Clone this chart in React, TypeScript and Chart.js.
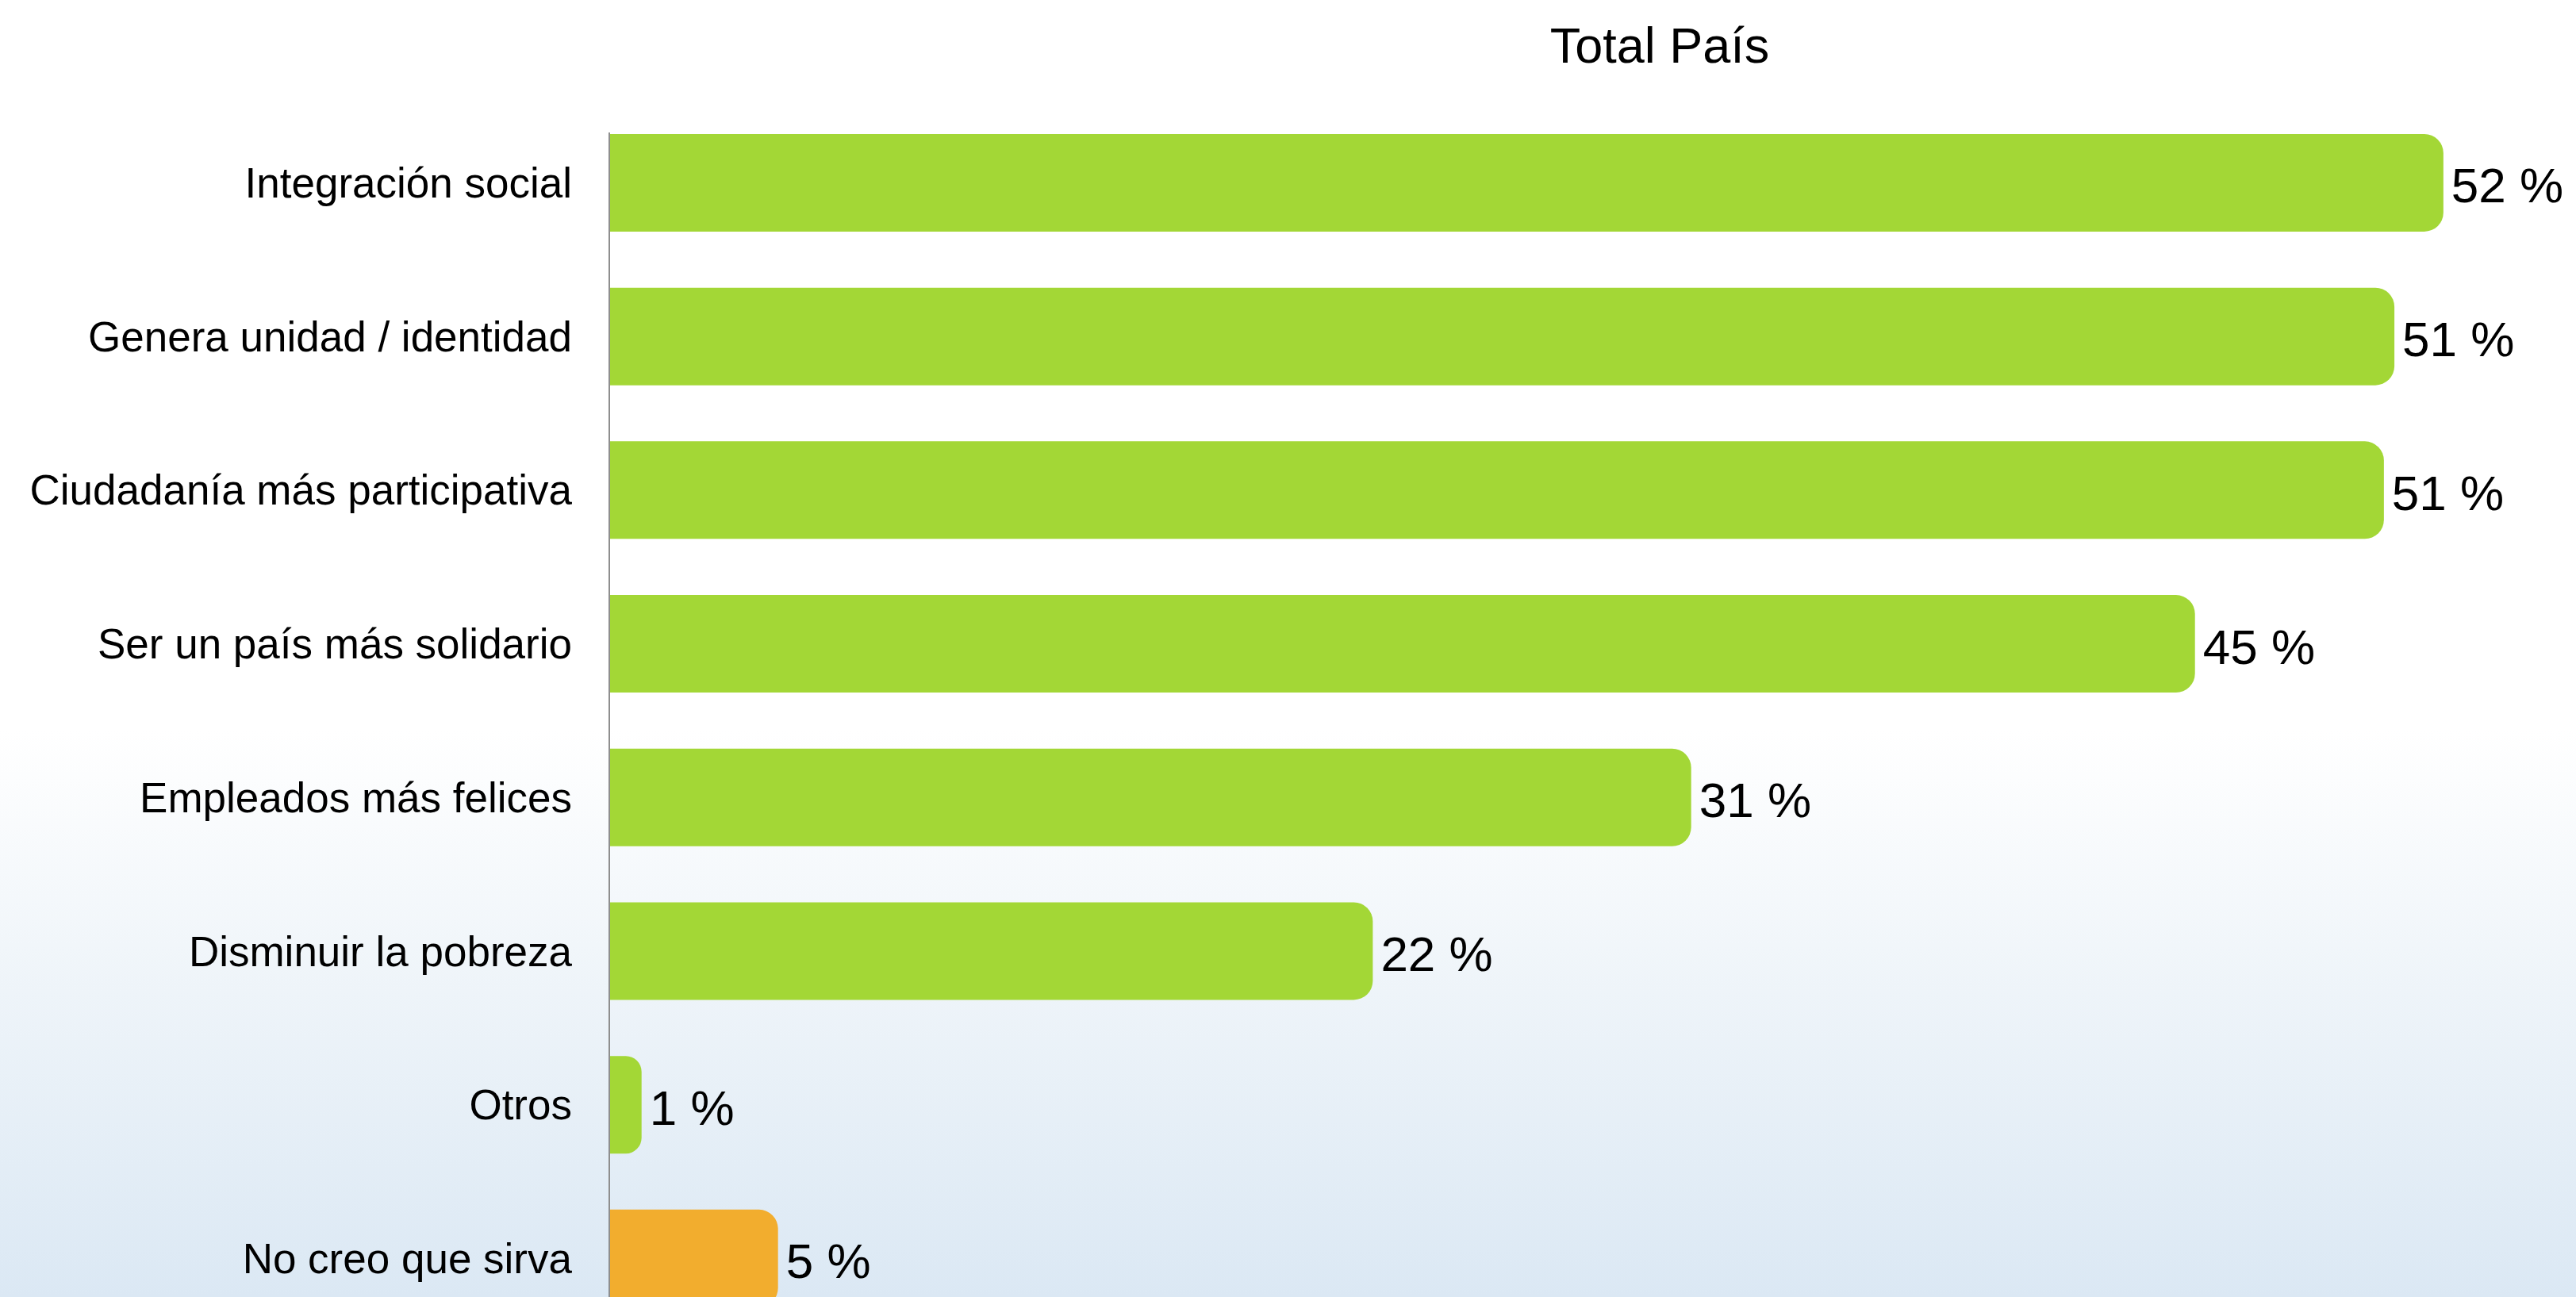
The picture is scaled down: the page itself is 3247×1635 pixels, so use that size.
import React, { useEffect, useRef } from "react";
import { Chart, registerables } from "chart.js";

Chart.register(...registerables);

const titleText = "Total País";
const categories = [
  "Integración social",
  "Genera unidad / identidad",
  "Ciudadanía más participativa",
  "Ser un país más solidario",
  "Empleados más felices",
  "Disminuir la pobreza",
  "Otros",
  "No creo que sirva",
];
const values = [52.4, 51.0, 50.7, 45.3, 30.9, 21.8, 0.9, 4.8];
const barColors = [
  "#a3d736",
  "#a3d736",
  "#a3d736",
  "#a3d736",
  "#a3d736",
  "#a3d736",
  "#a3d736",
  "#f2ad2e",
];
const xMin = 0;
const xMax = 60;

const FONT = "'Liberation Sans', Arial, Helvetica, sans-serif";
const CANVAS_W = 4184;
const CANVAS_H = 1763;

const valueLabelPlugin = {
  id: "valueLabels",
  afterDatasetsDraw(chart: any) {
    const ctx = chart.ctx;
    const meta = chart.getDatasetMeta(0);
    ctx.save();
    ctx.font = `62px ${FONT}`;
    ctx.fillStyle = "#000000";
    ctx.textAlign = "left";
    ctx.textBaseline = "alphabetic";
    meta.data.forEach((bar: any, i: number) => {
      const v = values[i];
      ctx.fillText(`${Math.round(v)} %`, bar.x + 10, bar.y + 25);
    });
    ctx.restore();
  },
};

const axisLinePlugin = {
  id: "axisLine",
  afterDatasetsDraw(chart: any) {
    const ctx = chart.ctx;
    const meta = chart.getDatasetMeta(0);
    const first = meta.data[0];
    const x0 = chart.scales.x.getPixelForValue(0);
    const top = first.y - first.height / 2 - 2;
    ctx.save();
    ctx.strokeStyle = "#8e8e8e";
    ctx.lineWidth = 2;
    ctx.beginPath();
    ctx.moveTo(x0 - 1, top);
    ctx.lineTo(x0 - 1, chart.height);
    ctx.stroke();
    ctx.restore();
  },
};

export default function App() {
  const canvasRef = useRef<HTMLCanvasElement | null>(null);

  useEffect(() => {
    if (!canvasRef.current) return;
    const chart = new Chart(canvasRef.current, {
      type: "bar",
      data: {
        labels: categories,
        datasets: [
          {
            data: values,
            backgroundColor: barColors,
            borderWidth: 0,
            borderRadius: 24,
            borderSkipped: "start",
            categoryPercentage: 1,
            barPercentage: 0.635,
          },
        ],
      },
      options: {
        indexAxis: "y",
        animation: false,
        responsive: false,
        maintainAspectRatio: false,
        layout: {
          padding: { left: 0, right: 0, top: 0, bottom: 0 },
        },
        plugins: {
          legend: { display: false },
          tooltip: { enabled: false },
          title: {
            display: true,
            text: titleText,
            color: "#000000",
            font: { family: FONT, size: 63, weight: "normal", lineHeight: 1.2 },
            padding: { top: 24, bottom: 34 },
          },
        },
        scales: {
          x: {
            display: false,
            min: xMin,
            max: xMax,
          },
          y: {
            grid: { display: false, drawTicks: false },
            border: { display: false },
            ticks: {
              color: "#000000",
              font: { family: FONT, size: 53 },
              padding: 48,
              labelOffset: 4,
            },
            afterFit(scale: any) {
              scale.width = 769;
            },
          },
          yRight: {
            type: "linear",
            position: "right",
            display: true,
            grid: { display: false, drawTicks: false },
            border: { display: false },
            ticks: { display: false },
            afterFit(scale: any) {
              scale.width = CANVAS_W - 3415;
            },
          },
        },
      },
      plugins: [axisLinePlugin, valueLabelPlugin],
    });
    return () => chart.destroy();
  }, []);

  return (
    <div
      style={{
        position: "fixed",
        left: 0,
        top: 0,
        width: "3247px",
        height: "1635px",
        overflow: "hidden",
        background:
          "linear-gradient(to bottom, #ffffff 0px, #ffffff 920px, #eef4f9 1250px, #dbe8f4 1635px)",
      }}
    >
      <canvas
        ref={canvasRef}
        width={CANVAS_W}
        height={CANVAS_H}
        style={{ display: "block", width: CANVAS_W + "px", height: CANVAS_H + "px" }}
      />
    </div>
  );
}
